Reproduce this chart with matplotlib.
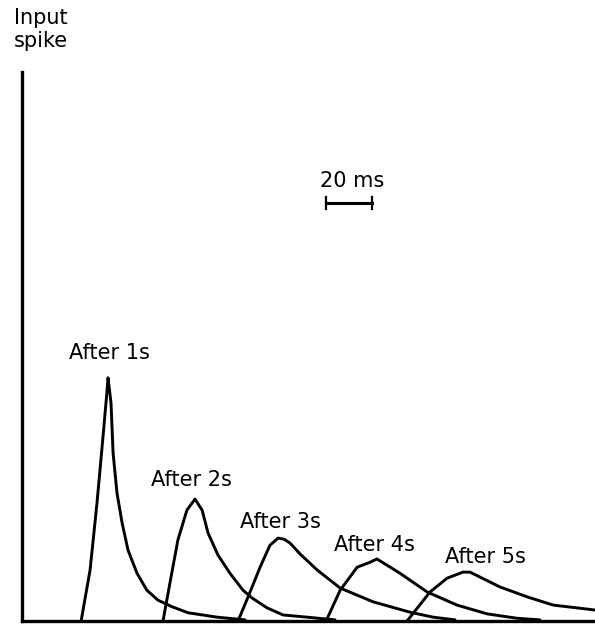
import numpy as np
import matplotlib
matplotlib.use('Agg')
import matplotlib.pyplot as plt

plt.rcParams['font.family'] = ['DejaVu Sans']

# time (ms) and amplitude (relative units)
labels = ['After 1s', 'After 2s', 'After 3s', 'After 4s', 'After 5s']

t1 = [25.7, 29.6, 32.6, 35.2, 37.0, 37.4, 38.7, 39.6, 41.3, 43.5, 46.1, 50.0, 54.3, 59.1, 65.2, 72.2, 84.8, 97.0]
a1 = [0.0, 9.3, 21.5, 33.5, 42.1, 44.3, 39.7, 30.6, 23.3, 17.9, 12.9, 8.7, 5.6, 3.8, 2.6, 1.5, 0.7, 0.2]

t2 = [61.3, 64.3, 67.8, 71.7, 75.2, 78.3, 80.9, 85.2, 90.4, 96.1, 100.0, 106.5, 113.5, 123.9, 136.1]
a2 = [0.0, 6.9, 14.8, 20.2, 22.2, 20.2, 16.0, 12.0, 8.7, 5.6, 4.2, 2.4, 1.1, 0.7, 0.2]

t3 = [93.9, 98.3, 103.5, 107.8, 111.3, 113.9, 116.5, 120.9, 128.3, 138.3, 152.6, 168.7, 178.7, 188.3]
a3 = [0.0, 4.4, 9.8, 13.8, 15.1, 14.9, 14.2, 12.2, 9.3, 6.0, 3.5, 1.6, 0.7, 0.2]

t4 = [132.2, 138.3, 145.7, 151.3, 154.3, 157.0, 164.3, 176.1, 189.1, 202.2, 215.2, 225.2]
a4 = [0.0, 5.6, 9.8, 10.7, 11.3, 10.6, 8.7, 5.3, 2.9, 1.3, 0.5, 0.2]

t5 = [167.4, 177.4, 184.8, 191.7, 194.8, 199.1, 207.8, 219.6, 230.9, 249.1]
a5 = [0.0, 5.3, 7.8, 8.9, 8.9, 8.0, 6.2, 4.4, 2.9, 2.0]

# label anchor positions (ms, amplitude)
label_t = [37.8, 73.5, 112.2, 153.0, 201.3]
label_a = [48.8, 25.7, 18.0, 13.8, 11.7]

scale_ms = 20

fig = plt.figure(figsize=(5.95, 6.26), dpi=100)
ax = fig.add_axes([22 / 595, 5 / 626, 573 / 595, 549 / 626])

for t, a in zip([t1, t2, t3, t4, t5], [a1, a2, a3, a4, a5]):
    ax.plot(t, a, color='black', lw=2.1, solid_joinstyle='round', solid_capstyle='round')

for lab, x, y in zip(labels, label_t, label_a):
    ax.text(x, y, lab, ha='center', va='center', fontsize=15)

# 20 ms scale bar
x0, y0 = 132.2, 76.1
ax.plot([x0, x0 + scale_ms], [y0, y0], color='black', lw=2.2)
ax.plot([x0, x0], [y0 - 1.1, y0 + 1.1], color='black', lw=1.6)
ax.plot([x0 + scale_ms, x0 + scale_ms], [y0 - 1.1, y0 + 1.1], color='black', lw=1.6)
ax.text(x0 + scale_ms / 2 + 1.5, y0 + 4.0, f'{scale_ms} ms', ha='center', va='center', fontsize=15)

ax.set_xlim(0, 249.1)
ax.set_ylim(0, 100)
ax.spines['top'].set_visible(False)
ax.spines['right'].set_visible(False)
ax.spines['left'].set_linewidth(2.4)
ax.spines['bottom'].set_linewidth(2.4)
ax.set_xticks([])
ax.set_yticks([])

fig.text(14 / 595, 1 - 8 / 626, 'Input\nspike', ha='left', va='top', fontsize=15, linespacing=1.2)

fig.savefig('out.png', dpi=100)
plt.close()
